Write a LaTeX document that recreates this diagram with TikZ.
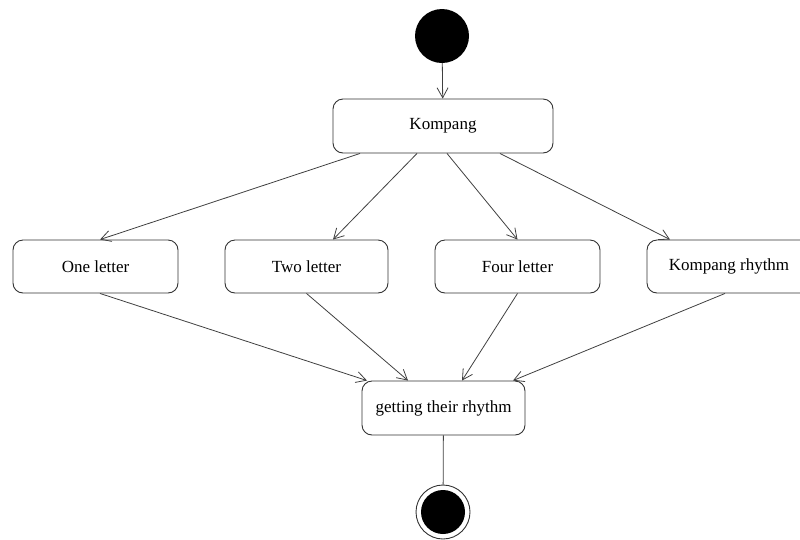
\documentclass[tikz,border=0pt]{standalone}
\usepackage{fontspec}
\setmainfont{Liberation Serif}
\usetikzlibrary{arrows.meta}
\begin{document}
\begin{tikzpicture}[x=1pt,y=-1pt,
  actbox/.style={draw=black!80, line width=0.9pt, rounded corners=10pt, fill=white,
    inner sep=0pt, font=\fontsize{17}{19}\selectfont, minimum height=53pt},
  flow/.style={draw=black!75, line width=0.8pt, -{Straight Barb[length=10pt,width=11pt,line width=0.8pt]}},
  plain/.style={draw=black!75, line width=0.8pt}]
\useasboundingbox (0,0) rectangle (800,539);
\node[circle, fill=black, minimum size=54pt, inner sep=0pt] (start) at (442,36) {};
\node[actbox, minimum width=220pt, minimum height=54pt] (komp) at (443,126) {Kompang};
\node[actbox, minimum width=165pt] (one) at (95.5,266.5) {One letter};
\node[actbox, minimum width=163pt] (two) at (306.5,266.5) {Two letter};
\node[actbox, minimum width=165pt] (four) at (517.5,266.5) {Four letter};
\node[actbox, minimum width=164pt] (rhy) at (729,266.5) {Kompang rhythm};
\node[actbox, minimum width=163pt, minimum height=54pt] (get) at (443.5,408) {getting their rhythm};
\node[circle, draw=black!80, line width=0.9pt, fill=white, minimum size=54pt, inner sep=0pt] (end) at (443,512) {};
\node[circle, fill=black, minimum size=44pt, inner sep=0pt] (endin) at (end.center) {};
\draw[flow] (start) -- (komp);
\draw[flow] ([xshift=-83pt]komp.south) -- ([xshift=4.5pt]one.north);
\draw[flow] ([xshift=-26pt]komp.south) -- ([xshift=26.5pt]two.north);
\draw[flow] ([xshift=4pt]komp.south) -- (four.north);
\draw[flow] ([xshift=57pt]komp.south) -- ([xshift=-59pt]rhy.north);
\draw[flow] ([xshift=4.5pt]one.south) -- ([xshift=-76.5pt]get.north);
\draw[flow] (two.south) -- ([xshift=-35.5pt]get.north);
\draw[flow] (four.south) -- ([xshift=18.5pt]get.north);
\draw[flow] ([xshift=-4pt]rhy.south) -- ([xshift=69.5pt]get.north);
\draw[plain] (get) -- (end);
\end{tikzpicture}
\end{document}
